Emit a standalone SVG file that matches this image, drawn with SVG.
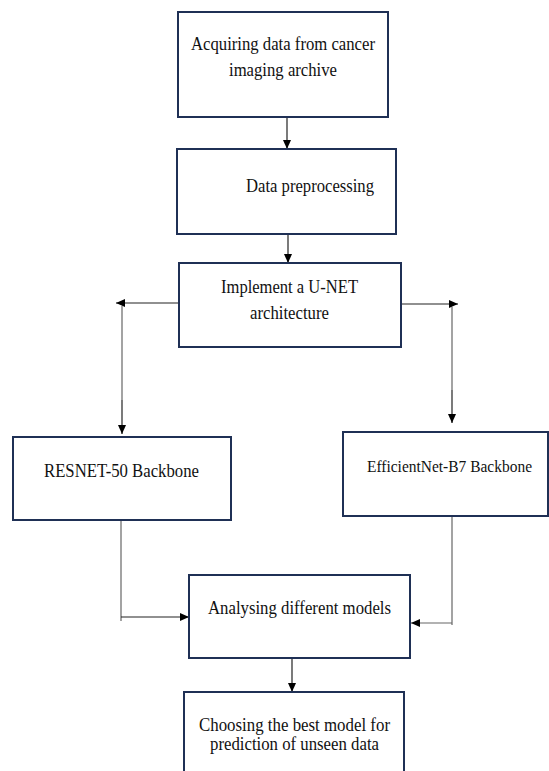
<svg xmlns="http://www.w3.org/2000/svg" width="549" height="771" viewBox="0 0 549 771">
  <style>
    .box { fill: #ffffff; stroke: #1f3055; stroke-width: 2; }
    .lbl { font-family: "Liberation Serif", "Times New Roman", serif; font-size: 18px; fill: #111111; }
    .lbl-s { font-size: 16px; }
    .wire { fill: none; stroke: #222222; stroke-width: 1.2; }
    .wire-g { fill: none; stroke: #666666; stroke-width: 1.2; }
  </style>
  <defs>
    <marker id="arrow" markerWidth="10" markerHeight="10" refX="9" refY="5" orient="auto" markerUnits="userSpaceOnUse">
      <path d="M0,1 L9,5 L0,9 Z" fill="#000000"/>
    </marker>
  </defs>
  <rect width="549" height="771" fill="#ffffff"/>

  <g id="connectors">
    <line class="wire" x1="287" y1="117" x2="287" y2="149" marker-end="url(#arrow)"/>
    <line class="wire" x1="288" y1="234" x2="288" y2="263" marker-end="url(#arrow)"/>
    <!-- branch to left backbone -->
    <line class="wire" x1="179" y1="303" x2="116" y2="303" marker-end="url(#arrow)"/>
    <line class="wire-g" x1="122" y1="306" x2="122" y2="400"/>
    <line class="wire" x1="122" y1="400" x2="122" y2="434" marker-end="url(#arrow)"/>
    <!-- branch to right backbone -->
    <line class="wire" x1="401" y1="304" x2="458" y2="304" marker-end="url(#arrow)"/>
    <line class="wire-g" x1="452" y1="307" x2="452" y2="390"/>
    <line class="wire" x1="452" y1="390" x2="452" y2="423" marker-end="url(#arrow)"/>
    <!-- backbones into analysis -->
    <line class="wire-g" x1="121" y1="520" x2="121" y2="621"/>
    <line class="wire" x1="121" y1="617" x2="189" y2="617" marker-end="url(#arrow)"/>
    <line class="wire-g" x1="452" y1="516" x2="452" y2="625"/>
    <line class="wire-g" x1="452" y1="623" x2="411" y2="623" marker-end="url(#arrow)"/>
    <line class="wire" x1="292" y1="658" x2="292" y2="692" marker-end="url(#arrow)"/>
  </g>

  <g id="acquire">
    <rect class="box" x="178" y="12" width="210" height="105"/>
    <text class="lbl" x="191" y="50" textLength="184" lengthAdjust="spacingAndGlyphs">Acquiring data from cancer</text>
    <text class="lbl" x="229" y="76" textLength="108" lengthAdjust="spacingAndGlyphs">imaging archive</text>
  </g>

  <g id="preprocess">
    <rect class="box" x="177" y="149" width="219" height="85"/>
    <text class="lbl" x="246" y="192" textLength="128" lengthAdjust="spacingAndGlyphs">Data preprocessing</text>
  </g>

  <g id="unet">
    <rect class="box" x="179" y="263" width="222" height="84"/>
    <text class="lbl" x="221" y="293" textLength="137" lengthAdjust="spacingAndGlyphs">Implement a U-NET</text>
    <text class="lbl" x="250" y="319" textLength="79" lengthAdjust="spacingAndGlyphs">architecture</text>
  </g>

  <g id="resnet">
    <rect class="box" x="13" y="437" width="218" height="83"/>
    <text class="lbl" x="44" y="477" textLength="155" lengthAdjust="spacingAndGlyphs">RESNET-50 Backbone</text>
  </g>

  <g id="efficientnet">
    <rect class="box" x="343" y="432" width="205" height="84"/>
    <text class="lbl lbl-s" x="367" y="472" textLength="165" lengthAdjust="spacingAndGlyphs">EfficientNet-B7 Backbone</text>
  </g>

  <g id="analyse">
    <rect class="box" x="189" y="575" width="221" height="83"/>
    <text class="lbl" x="208" y="614" textLength="183" lengthAdjust="spacingAndGlyphs">Analysing different models</text>
  </g>

  <g id="choose">
    <rect class="box" x="184" y="692" width="220" height="90"/>
    <text class="lbl" x="199" y="731" textLength="191" lengthAdjust="spacingAndGlyphs">Choosing the best model for</text>
    <text class="lbl" x="210" y="750" textLength="169" lengthAdjust="spacingAndGlyphs">prediction of unseen data</text>
  </g>
</svg>
